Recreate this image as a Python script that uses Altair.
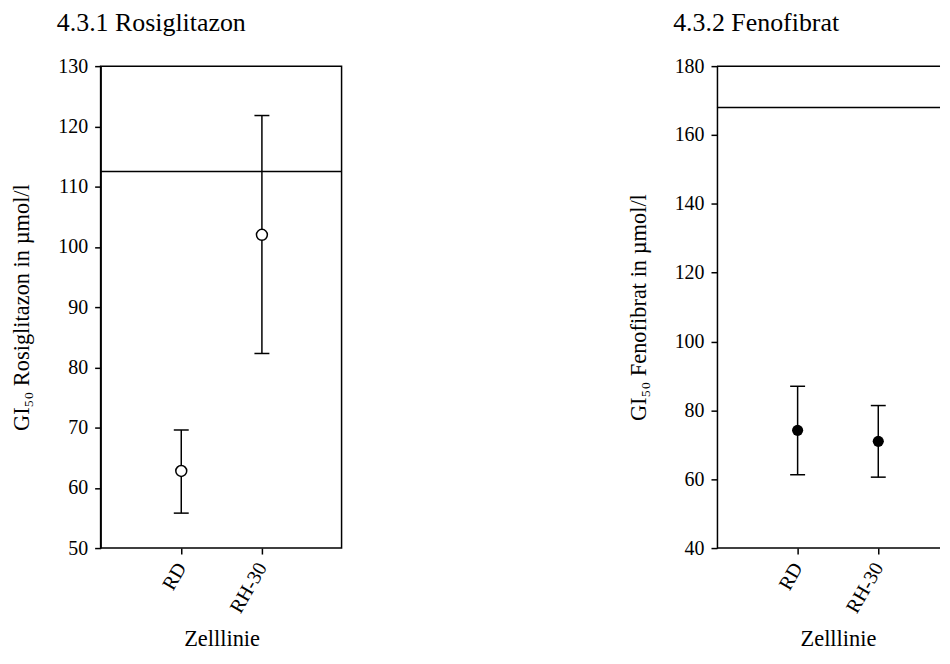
import altair as alt
import pandas as pd

cells = ["RD", "RH-30"]

rosi_mean = [62.8, 102.0]
rosi_lo = [55.8, 82.3]
rosi_hi = [69.6, 121.8]
rosi_ref = [112.5]
rosi_domain = [50, 130]
rosi_ticks = [50, 60, 70, 80, 90, 100, 110, 120, 130]

feno_mean = [74.2, 71.0]
feno_lo = [61.3, 60.6]
feno_hi = [87.0, 81.4]
feno_ref = [168.0]
feno_domain = [40, 180]
feno_ticks = [40, 60, 80, 100, 120, 140, 160, 180]

FONT = "Liberation Serif"
LW = 1.5
H = 484


def panel(title, ytitle, mean, lo, hi, ref, domain, ticks, filled, width, open_right):
    df = pd.DataFrame({"cell": cells, "mean": mean, "lo": lo, "hi": hi})
    refdf = pd.DataFrame({"ref": ref})
    x = alt.X(
        "cell:N",
        sort=cells,
        scale=alt.Scale(type="point", range=[81, 162], padding=0),
        axis=alt.Axis(
            title="Zelllinie",
            domain=False,
            labelAngle=-60,
            labelAlign="right",
            labelBaseline="middle",
            labelPadding=10,
            titlePadding=11.5,
        ),
    )
    yscale = alt.Scale(domain=domain, nice=False, zero=False)
    yaxis = alt.Axis(title=ytitle, values=ticks, labelPadding=7, titlePadding=24)

    base = alt.Chart(df)
    refrule = alt.Chart(refdf).mark_rule(color="black", strokeWidth=LW).encode(
        y=alt.Y("ref:Q", scale=yscale, axis=yaxis)
    )
    bars = base.mark_rule(color="black", strokeWidth=LW).encode(
        x=x, y=alt.Y("lo:Q", scale=yscale, axis=yaxis), y2="hi:Q"
    )
    cap_lo = base.mark_tick(color="black", size=15, thickness=LW, opacity=1).encode(
        x=x, y=alt.Y("lo:Q", scale=yscale, axis=yaxis)
    )
    cap_hi = base.mark_tick(color="black", size=15, thickness=LW, opacity=1).encode(
        x=x, y=alt.Y("hi:Q", scale=yscale, axis=yaxis)
    )
    if filled:
        pts = base.mark_circle(color="black", size=125, opacity=1)
    else:
        pts = base.mark_point(
            shape="circle", filled=False, fill="white", stroke="black",
            strokeWidth=LW, size=120, opacity=1, fillOpacity=1,
        )
    pts = pts.encode(x=x, y=alt.Y("mean:Q", scale=yscale, axis=yaxis))
    layers = [refrule, bars, cap_lo, cap_hi, pts]
    props = dict(
        width=width,
        height=H,
        title=alt.TitleParams(
            title, anchor="start", frame="group", dx=-44, offset=20,
            font=FONT, fontSize=26, fontWeight="normal", color="black",
        ),
    )
    if open_right:
        top = alt.Chart(refdf).mark_rule(color="black", strokeWidth=LW).encode(
            x=alt.value(0), x2=alt.value(width), y=alt.value(0)
        )
        bottom = alt.Chart(refdf).mark_rule(color="black", strokeWidth=LW).encode(
            x=alt.value(0), x2=alt.value(width), y=alt.value(H)
        )
        layers += [top, bottom]
        props["view"] = alt.ViewBackground(stroke="transparent")
    return alt.layer(*layers).properties(**props)


p1 = panel("4.3.1 Rosiglitazon", "GI\u2085\u2080 Rosiglitazon in \u00b5mol/l",
           rosi_mean, rosi_lo, rosi_hi, rosi_ref, rosi_domain, rosi_ticks,
           False, 242, False)
p2 = panel("4.3.2 Fenofibrat", "GI\u2085\u2080 Fenofibrat in \u00b5mol/l",
           feno_mean, feno_lo, feno_hi, feno_ref, feno_domain, feno_ticks,
           True, 224, True)

chart = alt.hconcat(p1, p2, spacing=284).properties(
    padding={"left": 2, "top": 0, "right": 0, "bottom": 0}
).configure(
    background="white"
).configure_view(
    stroke="black", strokeWidth=LW
).configure_axis(
    grid=False,
    domainColor="black",
    domainWidth=LW,
    tickColor="black",
    tickWidth=LW,
    tickSize=6,
    labelFont=FONT,
    labelFontSize=20,
    labelColor="black",
    titleFont=FONT,
    titleFontSize=22.5,
    titleFontWeight="normal",
    titleColor="black",
)

chart.save("out.html", embed_options={"renderer": "svg", "actions": False})
